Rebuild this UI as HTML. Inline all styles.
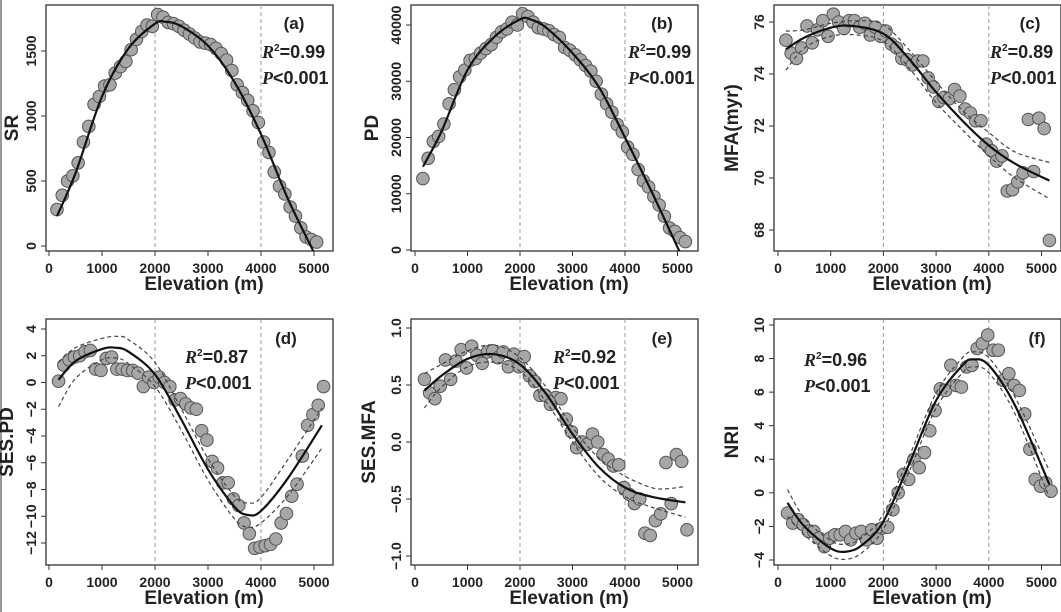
<!DOCTYPE html>
<html><head><meta charset="utf-8"><style>
body{margin:0;background:#fff;width:1061px;height:612px;overflow:hidden}
svg{display:block}
text{font-family:"Liberation Sans",Arial,sans-serif;font-weight:bold;fill:#222}
</style></head><body>
<svg id="s" width="1061" height="612" xmlns="http://www.w3.org/2000/svg"></svg>
<script>
const S=document.getElementById('s');let h='';
h+='<line x1="1" y1="0" x2="1" y2="612" stroke="#999" stroke-width="2"/>';
function cr(pts){let d='M'+pts[0][0].toFixed(1)+','+pts[0][1].toFixed(1);
for(let i=0;i<pts.length-1;i++){const p0=pts[i-1]||pts[i],p1=pts[i],p2=pts[i+1],p3=pts[i+2]||p2;
const c1=[p1[0]+(p2[0]-p0[0])/6,p1[1]+(p2[1]-p0[1])/6],c2=[p2[0]-(p3[0]-p1[0])/6,p2[1]-(p3[1]-p1[1])/6];
d+='C'+c1.map(v=>v.toFixed(1))+' '+c2.map(v=>v.toFixed(1))+' '+p2[0].toFixed(1)+','+p2[1].toFixed(1);}return d;}
function P(o){
 const X=m=>o.x0+m*o.kx/1000, Y=v=>o.ya+(v-o.va)*(o.yb-o.ya)/(o.vb-o.va);
 const bl=o.bx,bt=o.by,bw=287,bh=246,bb=bt+bh;
 h+=`<rect x="${bl}" y="${bt}" width="${bw}" height="${bh}" fill="none" stroke="#333" stroke-width="1.3"/>`;
 [2000,4000].forEach(m=>h+=`<line x1="${X(m)}" y1="${bt}" x2="${X(m)}" y2="${bb}" stroke="#999" stroke-dasharray="4,3"/>`);
 [0,1000,2000,3000,4000,5000].forEach(m=>{h+=`<line x1="${X(m)}" y1="${bb}" x2="${X(m)}" y2="${bb+5}" stroke="#333"/>`;
  h+=`<text x="${X(m)}" y="${bb+22}" font-size="14" text-anchor="middle">${m}</text>`;});
 o.yt.forEach(t=>{const y=Y(t[0]);h+=`<line x1="${bl}" y1="${y}" x2="${bl-5}" y2="${y}" stroke="#333"/>`;
  h+=`<text transform="translate(${bl-10},${y}) rotate(-90)" font-size="14" text-anchor="middle">${t[1]}</text>`;});
 h+=`<text x="${bl+158}" y="${bb+39}" font-size="19" text-anchor="middle">Elevation (m)</text>`;
 h+=`<text transform="translate(${bl-o.tl},${bt+bh/2}) rotate(-90)" font-size="19" text-anchor="middle">${o.title}</text>`;
 h+=`<g clip-path="url(#c${o.id})">`;
 h+=`<clipPath id="c${o.id}"><rect x="${bl}" y="${bt}" width="${bw}" height="${bh}"/></clipPath>`;
 o.pts.forEach(p=>h+=`<circle cx="${X(p[0])}" cy="${Y(p[1])}" r="6.3" fill="#a6a6a6" stroke="#555" stroke-width="1"/>`);
 const L=a=>cr(a.map(p=>[X(p[0]),Y(p[1])]));
 if(o.up){h+=`<path d="${L(o.up)}" fill="none" stroke="#444" stroke-width="1.2" stroke-dasharray="4,3"/>`;
  h+=`<path d="${L(o.lo)}" fill="none" stroke="#444" stroke-width="1.2" stroke-dasharray="4,3"/>`;}
 h+=`<path d="${L(o.fit)}" fill="none" stroke="#111" stroke-width="2.2"/>`;
 h+='</g>';
 const a=o.ann;
 h+=`<text x="${a[0]}" y="${a[1]}" font-size="17" text-anchor="middle">(${o.id})</text>`;
 h+=`<text x="${a[2]}" y="${a[3]}" font-size="18"><tspan font-family="Liberation Serif" font-style="italic">R</tspan><tspan font-size="10" dy="-7">2</tspan><tspan dy="7">=${o.r2}</tspan></text>`;
 h+=`<text x="${a[2]}" y="${a[3]+26}" font-size="18"><tspan font-family="Liberation Serif" font-style="italic">P</tspan>&lt;0.001</text>`;
}
const xs=(arr,s,st)=>arr.map((v,i)=>[s+i*st,v]);
P({id:'a',bx:46,by:5,x0:49,kx:53,ya:246,va:0,yb:51,vb:1500,yt:[[0,'0'],[500,'500'],[1000,'1000'],[1500,'1500']],title:'SR',tl:28,r2:'0.99',ann:[294,29,262,58],
pts:xs([280,390,500,540,640,800,920,1090,1150,1230,1240,1330,1380,1420,1510,1590,1650,1700,1690,1780,1760,1720,1710,1690,1660,1630,1600,1570,1560,1550,1520,1480,1430,1350,1240,1180,1120,1040,950,800,720,570,460,400,300,230,140,70,50,30],150,100),
fit:[[150,230],[500,560],[1000,1150],[1500,1520],[2000,1710],[2200,1725],[2500,1690],[3000,1540],[3500,1260],[4000,860],[4500,370],[5000,-50],[5150,-170]]});
P({id:'b',bx:411,by:5,x0:415,kx:52.5,ya:250,va:0,yb:25,vb:40000,yt:[[0,'0'],[10000,'10000'],[20000,'20000'],[30000,'30000'],[40000,'40000']],title:'PD',tl:33,r2:'0.99',ann:[662,29,628,58],
pts:xs([12.7,16.3,19.3,20.2,22.4,26,28.5,30.8,32,33.7,34,35,35.8,36.5,37.8,38.8,39.3,40.5,40,42,41.5,40.5,39.5,39.3,39,38.3,37.8,36,35.5,34.7,33.8,32.8,31.8,30,27.7,26,24.5,22.3,21,18.3,17,14.3,12.3,11.2,9.5,8,6,3.9,3.3,2.2,1.5].map(v=>v*1000),150,100),
fit:[[150,14800],[500,21000],[1000,32000],[1500,37800],[2000,41000],[2200,41000],[2500,39500],[3000,35000],[3500,29000],[4000,20000],[4500,10500],[5000,500],[5100,-1500]]});
P({id:'c',bx:774,by:5,x0:778,kx:52.7,ya:22,va:76,yb:230,vb:68,yt:[[68,'68'],[70,'70'],[72,'72'],[74,'74'],[76,'76']],title:'MFA(myr)',tl:36,r2:'0.89',ann:[1030,29,990,58],
pts:xs([75.3,74.8,74.6,75.0,75.85,75.2,75.7,76.05,75.45,76.3,76.0,75.75,76.05,76.05,75.8,75.95,75.5,75.8,75.45,75.65,75.15,75.0,74.6,74.55,74.35,74.5,74.5,73.85,73.5,72.95,73.1,73.05,73.4,73.15,72.65,72.5,72.2,72.2,71.3,71.05,70.65,70.85,69.5,69.55,69.85,70.2,72.25,70.25,72.3,71.9,67.6],150,100),
fit:[[150,74.95],[500,75.4],[1000,75.78],[1400,75.85],[2000,75.55],[2500,74.55],[3000,73.3],[3500,72.2],[4000,71.25],[4500,70.55],[5150,69.9]],
up:[[150,75.65],[500,75.7],[1000,75.95],[1500,76.05],[2000,75.9],[2500,74.9],[3000,73.7],[3500,72.6],[4000,71.75],[4500,71.0],[5150,70.6]],
lo:[[150,74.15],[500,75.0],[1000,75.45],[1500,75.5],[2000,75.25],[2500,74.2],[3000,72.9],[3500,71.85],[4000,70.85],[4500,70.0],[5150,69.2]]});
P({id:'d',bx:46,by:319,x0:49,kx:53,ya:329,va:4,yb:543,vb:-12,yt:[[-12,'−12'],[-10,'−10'],[-8,'−8'],[-6,'−6'],[-4,'−4'],[-2,'−2'],[0,'0'],[2,'2'],[4,'4']],title:'SES.PD',tl:33,r2:'0.87',ann:[286,344,185,363],
pts:xs([0.1,1.3,1.7,1.9,2.0,2.3,2.4,1.0,0.9,1.8,1.9,1.0,1.0,0.9,0.9,0.7,-0.3,0.4,0.0,0.4,0.0,-0.3,-1.3,-1.2,-1.6,-1.9,-2.0,-3.6,-4.3,-5.9,-6.4,-7.5,-7.5,-8.7,-9.2,-10.5,-11.3,-12.4,-12.3,-12.2,-12.1,-11.7,-10.5,-9.8,-8.5,-7.6,-5.5,-3.2,-2.4,-1.7,-0.3],180,100),
fit:[[180,0.2],[500,1.6],[1000,2.5],[1250,2.6],[1500,2.3],[2000,0.6],[2500,-2.8],[3000,-6.5],[3500,-9.3],[3750,-9.9],[4000,-9.6],[4500,-7.2],[5150,-3.2]],
up:[[180,1.5],[500,2.6],[1000,3.3],[1300,3.45],[1500,3.2],[2000,1.5],[2500,-2.0],[3000,-5.7],[3500,-8.5],[3750,-9.0],[4000,-8.6],[4500,-5.8],[5150,-1.9]],
lo:[[180,-1.8],[500,0.3],[1000,1.7],[1300,1.8],[1500,1.4],[2000,-0.3],[2500,-3.6],[3000,-7.3],[3500,-10.2],[3750,-10.8],[4000,-10.5],[4500,-8.5],[5150,-4.9]]});
P({id:'e',bx:411,by:319,x0:415,kx:52.5,ya:328,va:1,yb:556,vb:-1,yt:[[-1,'−1.0'],[-0.5,'−0.5'],[0,'0.0'],[0.5,'0.5'],[1,'1.0']],title:'SES.MFA',tl:36,r2:'0.92',ann:[662,344,553,363],
pts:xs([0.55,0.43,0.38,0.49,0.72,0.55,0.71,0.81,0.65,0.84,0.76,0.69,0.79,0.80,0.74,0.79,0.66,0.77,0.66,0.75,0.58,0.53,0.41,0.41,0.33,0.39,0.38,0.20,0.09,-0.05,0.0,-0.02,0.07,0.0,-0.11,-0.15,-0.21,-0.20,-0.40,-0.46,-0.54,-0.50,-0.80,-0.82,-0.69,-0.63,-0.18,-0.54,-0.11,-0.17,-0.77],180,100),
fit:[[180,0.45],[500,0.58],[1000,0.73],[1500,0.77],[2000,0.68],[2500,0.42],[3000,0.07],[3500,-0.22],[4000,-0.40],[4500,-0.48],[5150,-0.53]],
up:[[180,0.6],[500,0.68],[1000,0.8],[1500,0.85],[2000,0.74],[2500,0.48],[3000,0.13],[3500,-0.14],[4000,-0.30],[4500,-0.40],[4800,-0.41],[5150,-0.39]],
lo:[[180,0.30],[500,0.48],[1000,0.66],[1500,0.70],[2000,0.62],[2500,0.35],[3000,0.0],[3500,-0.30],[4000,-0.48],[4500,-0.57],[5150,-0.66]]});
const ff=[[180,-0.6],[500,-2.0],[1000,-3.3],[1300,-3.5],[1600,-3.1],[2000,-1.7],[2500,1.8],[3000,5.5],[3500,7.6],[3700,7.95],[4000,7.6],[4500,5.2],[5150,0.5]];
const ew=[0.8,0.5,0.45,0.45,0.45,0.45,0.45,0.45,0.45,0.45,0.45,0.5,0.8];
P({id:'f',bx:774,by:319,x0:778,kx:52.7,ya:325,va:10,yb:560,vb:-4,yt:[[-4,'−4'],[-2,'−2'],[0,'0'],[2,'2'],[4,'4'],[6,'6'],[8,'8'],[10,'10']],title:'NRI',tl:36,r2:'0.96',ann:[1037,344,804,366],
pts:xs([-1.2,-1.8,-1.6,-1.9,-2.3,-2.3,-2.7,-3.2,-2.7,-2.5,-2.5,-2.3,-2.8,-2.4,-2.3,-2.8,-2.2,-2.7,-2.1,-2.05,-1.0,0.0,1.1,0.8,2.0,1.5,2.4,3.7,4.9,6.2,6.1,7.6,6.4,6.3,7.5,7.6,8.6,8.9,9.4,8.5,8.5,6.7,7.1,6.4,6.1,4.7,2.6,0.8,0.4,0.6,0.1],180,100),
fit:ff,up:ff.map((p,i)=>[p[0],p[1]+ew[i]]),lo:ff.map((p,i)=>[p[0],p[1]-ew[i]])});
S.innerHTML=h;
</script>
</body></html>
